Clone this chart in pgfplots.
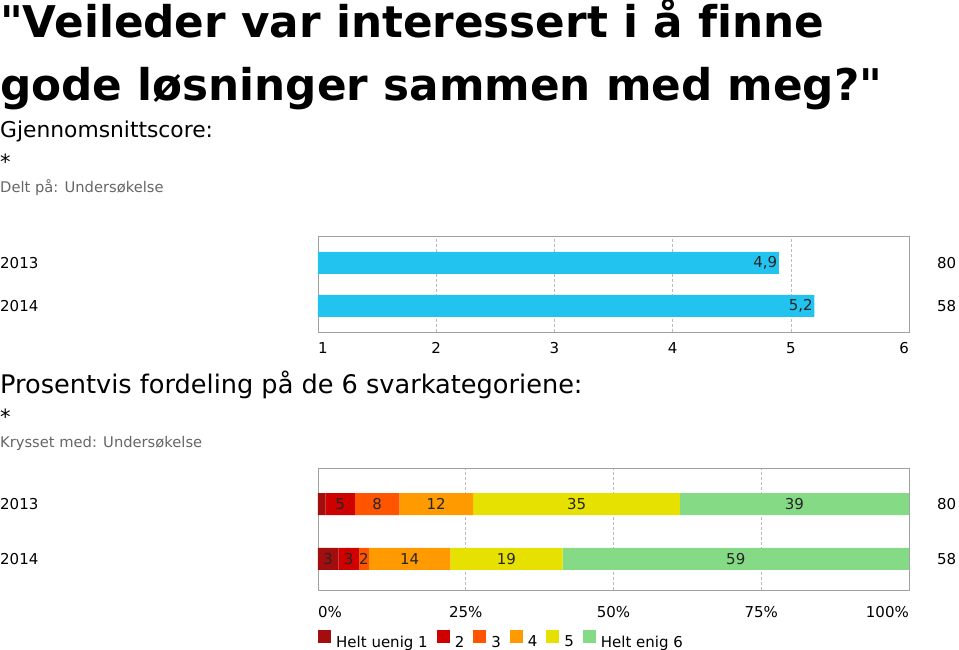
\documentclass[border=0pt]{standalone}
\usepackage{fontspec}
\setmainfont{DejaVu Sans}[Ligatures={NoCommon,TeXOff}]
\usepackage{pgfplots}
\pgfplotsset{compat=1.18}

\definecolor{barblue}{HTML}{22C3EF}
\definecolor{cA}{HTML}{A30D0D}
\definecolor{cB}{HTML}{CF0000}
\definecolor{cC}{HTML}{FF5500}
\definecolor{cD}{HTML}{FF9B00}
\definecolor{cE}{HTML}{E6E100}
\definecolor{cF}{HTML}{85DA85}
\definecolor{frame}{HTML}{A0A0A0}
\definecolor{subgray}{HTML}{666666}

\newcommand{\lbl}{\fontsize{15}{18}\selectfont}

\pgfplotsset{
  common/.style={
    scale only axis, width=591pt, clip=false,
    bar width=22pt,
    /pgf/number format/assume math mode=true,
    ytick=\empty,
    xmajorgrids, major grid style={densely dashed, frame!70, line width=0.6pt},
    tick style={draw=none},
    axis line style={frame, line width=0.9pt},
    tick label style={font=\lbl},
    xticklabel style={anchor=base, inner sep=0pt},
    every node near coord/.append style={font=\lbl, text=black!85},
  }
}

\begin{document}
\begin{tikzpicture}
\useasboundingbox (0,0) rectangle (959pt,649pt);

% titles
\node[anchor=base west, inner sep=0pt, font=\fontsize{43.7}{50}\selectfont\bfseries] at (0pt,611pt) {"Veileder var interessert i å finne};
\node[anchor=base west, inner sep=0pt, font=\fontsize{43.7}{50}\selectfont\bfseries] at (0pt,548pt) {gode løsninger sammen med meg?"};
\node[anchor=base west, inner sep=0pt, font=\fontsize{21.8}{24}\selectfont] at (0pt,511pt) {Gjennomsnittscore:};
\node[anchor=base west, inner sep=0pt, font=\fontsize{21}{24}\selectfont] at (0pt,479pt) {*};
\node[anchor=base west, inner sep=0pt, font=\fontsize{14.7}{17}\selectfont, text=subgray] at (0pt,456pt) {Delt på: Undersøkelse};

\node[anchor=base west, inner sep=0pt, font=\fontsize{25.6}{28}\selectfont] at (0pt,255pt) {Prosentvis fordeling på de 6 svarkategoriene:};
\node[anchor=base west, inner sep=0pt, font=\fontsize{21}{24}\selectfont] at (0pt,225pt) {*};
\node[anchor=base west, inner sep=0pt, font=\fontsize{14.7}{17}\selectfont, text=subgray] at (0pt,202pt) {Krysset med: Undersøkelse};

% mean score
\begin{axis}[common,
  at={(318pt,317pt)}, anchor=south west, height=96pt,
  xbar, xmin=1, xmax=6, ymin=-0.605, ymax=1.628,
  xtick={2,3,4,5},
  xticklabel style={yshift=-21pt},
  point meta=x,
  nodes near coords={\pgfmathprintnumber[use comma,fixed,fixed zerofill,precision=1]{\pgfplotspointmeta}},
  nodes near coords align={anchor=east},
  every node near coord/.append style={inner sep=1.5pt},
]
\addplot[fill=barblue, draw=none] coordinates {(4.9,1) (5.2,0)};
\node[anchor=base west, inner sep=0pt, font=\lbl] at (axis cs:1,-0.605) [yshift=-21pt] {1};
\node[anchor=base east, inner sep=0pt, font=\lbl] at (axis cs:6,-0.605) [yshift=-21pt] {6};
\node[anchor=west, inner sep=0pt, font=\lbl] at (axis cs:1,1) [xshift=-318pt] {2013};
\node[anchor=west, inner sep=0pt, font=\lbl] at (axis cs:1,0) [xshift=-318pt] {2014};
\node[anchor=west, inner sep=0pt, font=\lbl] at (axis cs:6,1) [xshift=28pt] {80};
\node[anchor=west, inner sep=0pt, font=\lbl] at (axis cs:6,0) [xshift=28pt] {58};
\end{axis}

% distribution
\begin{axis}[common,
  at={(318pt,59pt)}, anchor=south west, height=122pt,
  xbar stacked, xmin=0, xmax=100, ymin=-0.564, ymax=1.655,
  xtick={25,50,75},
  xticklabel={\pgfmathprintnumber{\tick}\%},
  xticklabel style={yshift=-27pt},
  point meta=explicit symbolic,
  nodes near coords,
  nodes near coords align={anchor=center},
  legend columns=-1,
  legend style={at={(rel axis cs:0,0)}, anchor=north west, yshift=-40pt,
    draw=none, fill=none, inner sep=0pt, font=\lbl,
    nodes={inner sep=0pt},
    /tikz/every odd column/.append style={column sep=5pt},
    /tikz/every even column/.append style={column sep=9pt}},
  legend image code/.code={\fill[#1] (0pt,-1pt) rectangle (13pt,12pt);},
]
\addplot[fill=cA, draw=none] coordinates {(1.25,1) [{}] (3.45,0) [3]};
\addplot[fill=cB, draw=none] coordinates {(5,1) [5] (3.45,0) [3]};
\addplot[fill=cC, draw=none] coordinates {(7.5,1) [8] (1.72,0) [2]};
\addplot[fill=cD, draw=none] coordinates {(12.5,1) [12] (13.79,0) [14]};
\addplot[fill=cE, draw=none] coordinates {(35,1) [35] (18.97,0) [19]};
\addplot[fill=cF, draw=none] coordinates {(38.75,1) [39] (58.62,0) [59]};
\legend{Helt uenig 1, 2, 3, 4, 5, Helt enig 6}
\node[anchor=base west, inner sep=0pt, font=\lbl] at (axis cs:0,-0.564) [yshift=-27pt] {0\%};
\node[anchor=base east, inner sep=0pt, font=\lbl] at (axis cs:100,-0.564) [yshift=-27pt] {100\%};
\node[anchor=west, inner sep=0pt, font=\lbl] at (axis cs:0,1) [xshift=-318pt] {2013};
\node[anchor=west, inner sep=0pt, font=\lbl] at (axis cs:0,0) [xshift=-318pt] {2014};
\node[anchor=west, inner sep=0pt, font=\lbl] at (axis cs:100,1) [xshift=28pt] {80};
\node[anchor=west, inner sep=0pt, font=\lbl] at (axis cs:100,0) [xshift=28pt] {58};
\end{axis}
\end{tikzpicture}
\end{document}
